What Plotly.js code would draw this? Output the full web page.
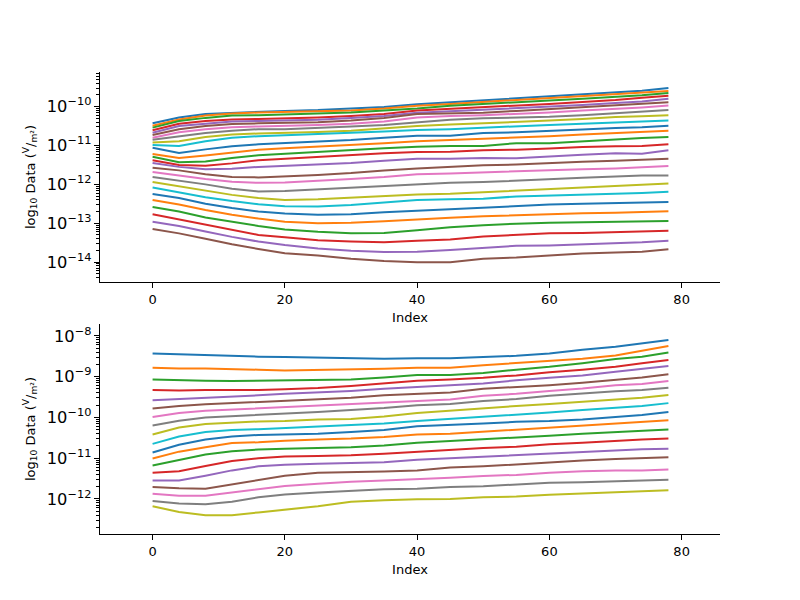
<!DOCTYPE html>
<html>
<head>
<meta charset="utf-8">
<script src="https://cdn.plot.ly/plotly-3.0.1.min.js"></script>
<style>html,body{margin:0;padding:0;background:#fff;}#chart{width:800px;height:600px;}</style>
</head>
<body>
<div id="chart"></div>
<script>
// Sample indices along the x axis
const idx = [0, 4, 8, 12, 16, 20, 25, 30, 35, 40, 45, 50, 55, 60, 65, 70, 74, 78];

// Top panel: log10 of data values, one array per line (26 lines)
const top01 = [-10.43,-10.28,-10.19,-10.16,-10.13,-10.11,-10.09,-10.05,-10.01,-9.94,-9.89,-9.84,-9.79,-9.73,-9.68,-9.63,-9.59,-9.52];
const top02 = [-10.49,-10.33,-10.23,-10.18,-10.15,-10.14,-10.11,-10.10,-10.05,-9.98,-9.93,-9.88,-9.83,-9.77,-9.72,-9.68,-9.64,-9.60];
const top03 = [-10.54,-10.37,-10.29,-10.23,-10.22,-10.20,-10.19,-10.15,-10.10,-10.05,-9.98,-9.93,-9.89,-9.84,-9.80,-9.76,-9.71,-9.65];
const top04 = [-10.61,-10.44,-10.37,-10.33,-10.32,-10.31,-10.28,-10.24,-10.19,-10.10,-10.06,-10.02,-9.98,-9.93,-9.88,-9.83,-9.77,-9.72];
const top05 = [-10.67,-10.50,-10.44,-10.38,-10.37,-10.36,-10.34,-10.29,-10.24,-10.16,-10.12,-10.09,-10.05,-10.01,-9.96,-9.91,-9.87,-9.80];
const top06 = [-10.73,-10.58,-10.50,-10.45,-10.43,-10.42,-10.40,-10.36,-10.29,-10.19,-10.18,-10.16,-10.11,-10.06,-10.02,-9.97,-9.93,-9.89];
const top07 = [-10.80,-10.66,-10.58,-10.53,-10.51,-10.50,-10.47,-10.44,-10.38,-10.28,-10.24,-10.22,-10.19,-10.15,-10.10,-10.06,-10.02,-9.97];
const top08 = [-10.85,-10.77,-10.68,-10.62,-10.58,-10.58,-10.55,-10.51,-10.47,-10.40,-10.34,-10.30,-10.28,-10.26,-10.22,-10.17,-10.14,-10.09];
const top09 = [-10.92,-10.89,-10.78,-10.72,-10.69,-10.68,-10.65,-10.62,-10.56,-10.50,-10.46,-10.43,-10.40,-10.36,-10.32,-10.27,-10.25,-10.22];
const top10 = [-10.99,-11.01,-10.89,-10.80,-10.76,-10.73,-10.69,-10.67,-10.64,-10.60,-10.58,-10.54,-10.51,-10.47,-10.44,-10.40,-10.38,-10.36];
const top11 = [-11.06,-11.19,-11.10,-11.02,-10.97,-10.94,-10.90,-10.86,-10.80,-10.75,-10.75,-10.68,-10.66,-10.63,-10.59,-10.55,-10.53,-10.49];
const top12 = [-11.22,-11.32,-11.26,-11.19,-11.11,-11.07,-11.03,-10.98,-10.94,-10.89,-10.86,-10.82,-10.80,-10.76,-10.72,-10.68,-10.66,-10.62];
const top13 = [-11.29,-11.43,-11.41,-11.32,-11.25,-11.21,-11.16,-11.11,-11.07,-11.03,-11.01,-11.01,-10.94,-10.94,-10.89,-10.84,-10.81,-10.78];
const top14 = [-11.38,-11.50,-11.52,-11.46,-11.38,-11.34,-11.29,-11.24,-11.20,-11.17,-11.16,-11.12,-11.11,-11.08,-11.04,-11.02,-11.01,-10.97];
const top15 = [-11.45,-11.55,-11.61,-11.60,-11.55,-11.52,-11.49,-11.45,-11.39,-11.34,-11.34,-11.32,-11.33,-11.28,-11.24,-11.20,-11.21,-11.12];
const top16 = [-11.57,-11.64,-11.74,-11.81,-11.82,-11.80,-11.76,-11.71,-11.64,-11.59,-11.55,-11.51,-11.49,-11.45,-11.42,-11.39,-11.37,-11.34];
const top17 = [-11.68,-11.77,-11.86,-11.93,-11.96,-11.95,-11.91,-11.86,-11.81,-11.74,-11.72,-11.69,-11.66,-11.64,-11.61,-11.59,-11.56,-11.53];
const top18 = [-11.81,-11.90,-12.00,-12.11,-12.18,-12.17,-12.13,-12.09,-12.05,-12.00,-11.96,-11.94,-11.90,-11.87,-11.83,-11.80,-11.77,-11.77];
const top19 = [-11.94,-12.05,-12.17,-12.27,-12.35,-12.40,-12.38,-12.34,-12.30,-12.26,-12.24,-12.20,-12.16,-12.12,-12.09,-12.05,-12.02,-11.98];
const top20 = [-12.08,-12.20,-12.33,-12.43,-12.51,-12.56,-12.57,-12.53,-12.47,-12.40,-12.38,-12.37,-12.31,-12.29,-12.26,-12.24,-12.22,-12.19];
const top21 = [-12.25,-12.35,-12.50,-12.61,-12.70,-12.75,-12.78,-12.77,-12.72,-12.68,-12.64,-12.59,-12.55,-12.52,-12.50,-12.48,-12.47,-12.45];
const top22 = [-12.40,-12.52,-12.66,-12.78,-12.88,-12.96,-13.00,-12.99,-12.95,-12.90,-12.86,-12.82,-12.79,-12.77,-12.74,-12.73,-12.71,-12.69];
const top23 = [-12.58,-12.70,-12.85,-12.96,-13.07,-13.16,-13.22,-13.26,-13.25,-13.18,-13.10,-13.05,-13.01,-12.99,-12.98,-12.96,-12.95,-12.94];
const top24 = [-12.77,-12.90,-13.04,-13.17,-13.30,-13.36,-13.44,-13.47,-13.49,-13.45,-13.42,-13.34,-13.30,-13.26,-13.25,-13.22,-13.21,-13.19];
const top25 = [-12.96,-13.07,-13.21,-13.35,-13.47,-13.56,-13.65,-13.71,-13.74,-13.73,-13.69,-13.64,-13.58,-13.57,-13.54,-13.52,-13.49,-13.45];
const top26 = [-13.15,-13.26,-13.40,-13.54,-13.66,-13.77,-13.83,-13.91,-13.97,-14.00,-14.00,-13.91,-13.88,-13.83,-13.78,-13.75,-13.73,-13.67];

// Bottom panel: log10 of data values (19 lines)
const bot01 = [-8.43,-8.45,-8.48,-8.49,-8.51,-8.52,-8.53,-8.55,-8.56,-8.55,-8.55,-8.52,-8.49,-8.43,-8.34,-8.27,-8.19,-8.10];
const bot02 = [-8.78,-8.80,-8.80,-8.81,-8.83,-8.85,-8.84,-8.82,-8.81,-8.78,-8.78,-8.72,-8.67,-8.62,-8.56,-8.48,-8.36,-8.25];
const bot03 = [-9.07,-9.09,-9.10,-9.11,-9.10,-9.09,-9.08,-9.07,-9.02,-8.96,-8.96,-8.91,-8.83,-8.76,-8.67,-8.57,-8.51,-8.41];
const bot04 = [-9.33,-9.34,-9.33,-9.33,-9.33,-9.31,-9.28,-9.23,-9.17,-9.10,-9.07,-9.03,-8.97,-8.89,-8.83,-8.76,-8.67,-8.59];
const bot05 = [-9.58,-9.55,-9.52,-9.50,-9.46,-9.42,-9.39,-9.35,-9.30,-9.25,-9.21,-9.17,-9.09,-9.03,-8.97,-8.88,-8.81,-8.74];
const bot06 = [-9.78,-9.72,-9.68,-9.65,-9.61,-9.58,-9.56,-9.52,-9.46,-9.42,-9.39,-9.30,-9.26,-9.21,-9.15,-9.08,-9.02,-8.94];
const bot07 = [-9.99,-9.89,-9.84,-9.81,-9.78,-9.76,-9.72,-9.68,-9.63,-9.60,-9.56,-9.47,-9.42,-9.35,-9.29,-9.21,-9.18,-9.11];
const bot08 = [-10.20,-10.08,-10.00,-9.97,-9.94,-9.92,-9.87,-9.82,-9.77,-9.70,-9.67,-9.60,-9.55,-9.47,-9.41,-9.36,-9.33,-9.27];
const bot09 = [-10.42,-10.25,-10.16,-10.13,-10.10,-10.09,-10.05,-10.04,-9.98,-9.89,-9.83,-9.77,-9.72,-9.67,-9.62,-9.57,-9.52,-9.45];
const bot10 = [-10.65,-10.47,-10.36,-10.31,-10.29,-10.26,-10.22,-10.19,-10.15,-10.09,-10.04,-9.98,-9.93,-9.88,-9.82,-9.77,-9.72,-9.65];
const bot11 = [-10.86,-10.67,-10.54,-10.47,-10.43,-10.42,-10.40,-10.36,-10.31,-10.22,-10.19,-10.15,-10.11,-10.09,-10.05,-9.99,-9.94,-9.87];
const bot12 = [-11.01,-10.84,-10.73,-10.63,-10.61,-10.57,-10.54,-10.52,-10.48,-10.42,-10.40,-10.35,-10.30,-10.25,-10.20,-10.14,-10.10,-10.07];
const bot13 = [-11.18,-11.04,-10.91,-10.83,-10.79,-10.77,-10.75,-10.73,-10.69,-10.62,-10.58,-10.54,-10.50,-10.45,-10.40,-10.36,-10.32,-10.30];
const bot14 = [-11.36,-11.32,-11.19,-11.07,-11.00,-10.96,-10.95,-10.93,-10.89,-10.84,-10.79,-10.75,-10.72,-10.66,-10.62,-10.57,-10.54,-10.52];
const bot15 = [-11.55,-11.55,-11.43,-11.30,-11.20,-11.16,-11.14,-11.12,-11.10,-11.04,-11.00,-10.96,-10.93,-10.89,-10.85,-10.80,-10.78,-10.77];
const bot16 = [-11.71,-11.74,-11.75,-11.64,-11.53,-11.43,-11.36,-11.35,-11.33,-11.30,-11.23,-11.20,-11.15,-11.10,-11.06,-11.02,-11.00,-10.98];
const bot17 = [-11.87,-11.92,-11.92,-11.84,-11.75,-11.68,-11.63,-11.58,-11.55,-11.52,-11.48,-11.44,-11.41,-11.36,-11.32,-11.30,-11.30,-11.28];
const bot18 = [-12.05,-12.11,-12.13,-12.07,-11.96,-11.89,-11.84,-11.80,-11.76,-11.75,-11.71,-11.69,-11.65,-11.60,-11.59,-11.57,-11.55,-11.53];
const bot19 = [-12.18,-12.32,-12.40,-12.40,-12.33,-12.26,-12.18,-12.07,-12.03,-12.01,-12.00,-11.96,-11.94,-11.90,-11.87,-11.85,-11.83,-11.79];

const topSeries = [top01,top02,top03,top04,top05,top06,top07,top08,top09,top10,top11,top12,top13,
  top14,top15,top16,top17,top18,top19,top20,top21,top22,top23,top24,top25,top26];
const botSeries = [bot01,bot02,bot03,bot04,bot05,bot06,bot07,bot08,bot09,bot10,bot11,bot12,bot13,
  bot14,bot15,bot16,bot17,bot18,bot19];

const palette = ['#1f77b4','#ff7f0e','#2ca02c','#d62728','#9467bd','#8c564b','#e377c2','#7f7f7f','#bcbd22','#17becf'];

const traces = [];
topSeries.forEach((s, i) => traces.push({
  x: idx, y: s.map(e => Math.pow(10, e)), type: 'scatter', mode: 'lines',
  line: {color: palette[i % 10], width: 2}, xaxis: 'x', yaxis: 'y', hoverinfo: 'skip'
}));
botSeries.forEach((s, i) => traces.push({
  x: idx, y: s.map(e => Math.pow(10, e)), type: 'scatter', mode: 'lines',
  line: {color: palette[i % 10], width: 2}, xaxis: 'x2', yaxis: 'y2', hoverinfo: 'skip'
}));

// minor tick positions (2..9 x 10^n) for log axes
function minorTicks(lo, hi) {
  const out = [];
  for (let n = lo; n <= hi; n++) for (let k = 2; k <= 9; k++) out.push(k * Math.pow(10, n));
  return out;
}

const font = {family: 'DejaVu Sans, sans-serif', size: 13, color: '#000'};
const xBase = {
  range: [-7.95, 85.8], tickvals: [0, 20, 40, 60, 80], showline: true, linecolor: '#000', linewidth: 1,
  ticks: 'outside', ticklen: 5, tickcolor: '#000', showgrid: false, zeroline: false, mirror: false,
  tickfont: font, title: {text: 'Index', font: font, standoff: 7}
};
const yTitle = 'log<sub>10</sub> Data (<sup>V</sup>/<sub>m²</sub>)';
const yBase = {
  type: 'log', dtick: 1, exponentformat: 'power', showline: true, linecolor: '#000', linewidth: 1,
  ticks: 'outside', ticklen: 5, tickcolor: '#000', showgrid: false, zeroline: false, mirror: false,
  tickfont: font, title: {text: yTitle, font: font, standoff: 8}
};
const yMinor = {
  type: 'log', tickmode: 'array', showticklabels: false, ticks: 'outside', ticklen: 3,
  tickcolor: '#000', showline: false, showgrid: false, zeroline: false, side: 'left'
};

const layout = {
  width: 800, height: 600, showlegend: false,
  paper_bgcolor: '#fff', plot_bgcolor: '#fff',
  margin: {l: 100, r: 80, t: 72, b: 66},
  xaxis: Object.assign({}, xBase, {anchor: 'y', domain: [0, 1]}),
  yaxis: Object.assign({}, yBase, {anchor: 'x', domain: [0.5455, 1], range: [-14.51, -9.11]}),
  xaxis2: Object.assign({}, xBase, {anchor: 'y2', domain: [0, 1]}),
  yaxis2: Object.assign({}, yBase, {anchor: 'x2', domain: [0, 0.4545], range: [-12.86, -7.71]}),
  yaxis3: Object.assign({}, yMinor, {overlaying: 'y', anchor: 'x', range: [-14.51, -9.11], tickvals: minorTicks(-15, -10)}),
  yaxis4: Object.assign({}, yMinor, {overlaying: 'y2', anchor: 'x2', range: [-12.86, -7.71], tickvals: minorTicks(-13, -8)})
};

// invisible anchor traces so the minor-tick axes are drawn
traces.push({x: [], y: [], type: 'scatter', mode: 'lines', xaxis: 'x', yaxis: 'y3', hoverinfo: 'skip'});
traces.push({x: [], y: [], type: 'scatter', mode: 'lines', xaxis: 'x2', yaxis: 'y4', hoverinfo: 'skip'});

Plotly.newPlot('chart', traces, layout, {staticPlot: true, displayModeBar: false});
</script>
</body>
</html>
